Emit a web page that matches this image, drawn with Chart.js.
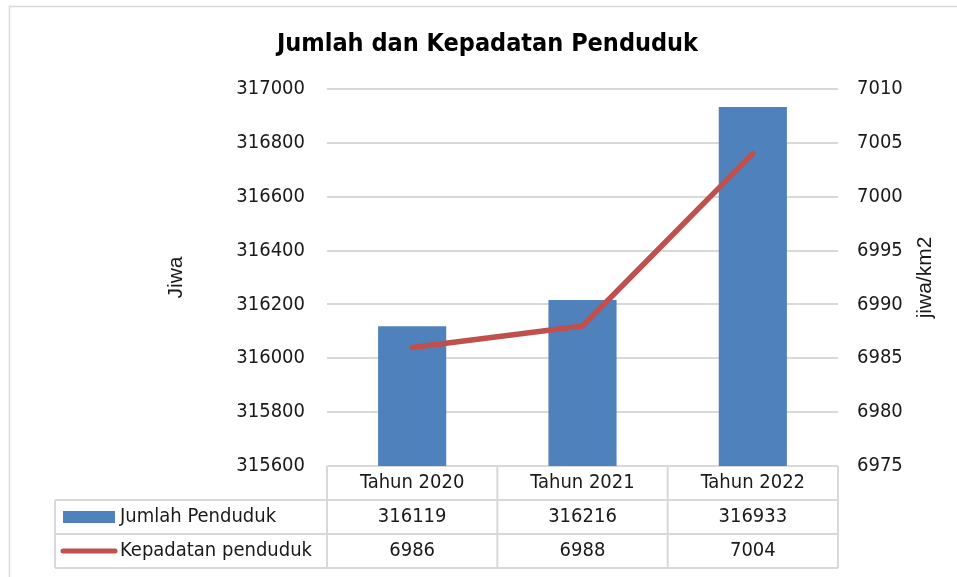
<!DOCTYPE html>
<html>
<head>
<meta charset="utf-8">
<script src="https://cdn.jsdelivr.net/npm/chart.js@4"></script>
<style>
    html, body { margin: 0; padding: 0; background: #fff; }
</style>
</head>
<body>
<canvas id="chart" width="957" height="577"></canvas>
<script>
// data
const categories = ['Tahun 2020', 'Tahun 2021', 'Tahun 2022'];
const jumlahPenduduk = [316119, 316216, 316933];
const kepadatanPenduduk = [6986, 6988, 7004];
const jiwaAxis = { min: 315600, max: 317000, step: 200 };
const kepadatanAxis = { min: 6975, max: 7010, step: 5 };

const seriesNames = ['Jumlah Penduduk', 'Kepadatan penduduk'];
const blue = '#4F81BD';
const red = '#C0504D';
const gridGray = '#D9D9D9';
const tahoma = "'DejaVu Sans Condensed', 'Liberation Sans', sans-serif";
const arial = "'Liberation Sans', Arial, sans-serif";

// outer frame like the excel chart area
const frame = {
    id: 'frame',
    beforeDraw(chart) {
        const ctx = chart.ctx;
        ctx.save();
        ctx.strokeStyle = gridGray;
        ctx.lineWidth = 1.5;
        ctx.strokeRect(9.5, 6.5, 1000, 1000);
        ctx.restore();
    }
};

// right axis title reads bottom-to-top in excel, chart.js turns it the other way
const rightTitle = {
    id: 'rightTitle',
    afterDraw(chart) {
        const ctx = chart.ctx;
        const area = chart.chartArea;
        ctx.save();
        ctx.translate(925, (area.top + area.bottom) / 2);
        ctx.rotate(-Math.PI / 2);
        ctx.fillStyle = '#1a1a1a';
        ctx.font = '21px ' + arial;
        ctx.textAlign = 'center';
        ctx.textBaseline = 'middle';
        ctx.fillText('jiwa/km2', 0, 0);
        ctx.restore();
    }
};

// data table under the plot, columns follow the x scale
const dataTable = {
    id: 'dataTable',
    afterDraw(chart) {
        const ctx = chart.ctx;
        const area = chart.chartArea;
        const xs = chart.scales.x;
        const colW = (area.right - area.left) / categories.length;
        const top = area.bottom;
        const rowH = 34;
        const tableLeft = 55;

        ctx.save();
        ctx.strokeStyle = gridGray;
        ctx.lineWidth = 2;
        ctx.beginPath();
        // column lines
        for (let i = 0; i <= categories.length; i++) {
            const x = area.left + i * colW;
            ctx.moveTo(x, top);
            ctx.lineTo(x, top + rowH * 3);
        }
        // rows
        for (let r = 1; r <= 3; r++) {
            ctx.moveTo(tableLeft, top + r * rowH);
            ctx.lineTo(area.right, top + r * rowH);
        }
        ctx.moveTo(tableLeft, top + rowH);
        ctx.lineTo(tableLeft, top + rowH * 3);
        ctx.stroke();

        ctx.fillStyle = '#1a1a1a';
        ctx.font = '20px ' + tahoma;
        ctx.textAlign = 'center';
        ctx.textBaseline = 'middle';
        categories.forEach((c, i) => {
            const cx = xs.getPixelForValue(i);
            ctx.fillText(c, cx, top + rowH * 0.5);
            ctx.fillText(String(jumlahPenduduk[i]), cx, top + rowH * 1.5);
            ctx.fillText(String(kepadatanPenduduk[i]), cx, top + rowH * 2.5);
        });

        // legend keys
        const y1 = top + rowH * 1.5;
        const y2 = top + rowH * 2.5;
        ctx.fillStyle = blue;
        ctx.fillRect(63, y1 - 6, 52, 12);
        ctx.strokeStyle = red;
        ctx.lineWidth = 5;
        ctx.lineCap = 'round';
        ctx.beginPath();
        ctx.moveTo(63, y2);
        ctx.lineTo(115, y2);
        ctx.stroke();

        ctx.fillStyle = '#1a1a1a';
        ctx.textAlign = 'left';
        ctx.fillText(seriesNames[0], 120, y1);
        ctx.fillText(seriesNames[1], 120, y2);
        ctx.restore();
    }
};

const ctx = document.getElementById('chart').getContext('2d');
new Chart(ctx, {
    type: 'bar',
    data: {
        labels: categories,
        datasets: [
            {
                type: 'line',
                label: seriesNames[1],
                data: kepadatanPenduduk,
                borderColor: red,
                backgroundColor: red,
                borderWidth: 5.5,
                pointRadius: 0,
                borderCapStyle: 'round',
                borderJoinStyle: 'round',
                yAxisID: 'y2',
                order: 0
            },
            {
                label: seriesNames[0],
                data: jumlahPenduduk,
                backgroundColor: blue,
                borderWidth: 0,
                barPercentage: 0.4,
                categoryPercentage: 1,
                yAxisID: 'y',
                order: 1
            }
        ]
    },
    options: {
        responsive: false,
        animation: false,
        layout: { padding: { left: 18, right: 0, top: 0, bottom: 111 } },
        plugins: {
            legend: { display: false },
            tooltip: { enabled: false },
            title: {
                display: true,
                text: 'Jumlah dan Kepadatan Penduduk',
                color: '#000',
                font: { family: tahoma, size: 25, weight: 'bold' },
                padding: { top: 29, bottom: 30 }
            }
        },
        scales: {
            x: { display: false },
            y: {
                position: 'left',
                min: jiwaAxis.min,
                max: jiwaAxis.max,
                afterFit(scale) { scale.width = 327 - 18; },
                ticks: {
                    stepSize: jiwaAxis.step,
                    padding: 22,
                    color: '#1a1a1a',
                    font: { family: tahoma, size: 20 },
                    callback: v => String(v)
                },
                grid: { color: gridGray, lineWidth: 2, drawTicks: false },
                border: { display: false },
                title: {
                    display: true,
                    text: 'Jiwa',
                    color: '#1a1a1a',
                    font: { family: arial, size: 21 },
                    padding: { top: 146, bottom: 0 }
                }
            },
            y2: {
                position: 'right',
                min: kepadatanAxis.min,
                max: kepadatanAxis.max,
                afterFit(scale) { scale.width = 957 - 838; },
                ticks: {
                    stepSize: kepadatanAxis.step,
                    padding: 19,
                    color: '#1a1a1a',
                    font: { family: tahoma, size: 20 },
                    callback: v => String(v)
                },
                grid: { display: false, drawTicks: false },
                border: { display: false }
            }
        }
    },
    plugins: [frame, dataTable, rightTitle]
});
</script>
</body>
</html>
